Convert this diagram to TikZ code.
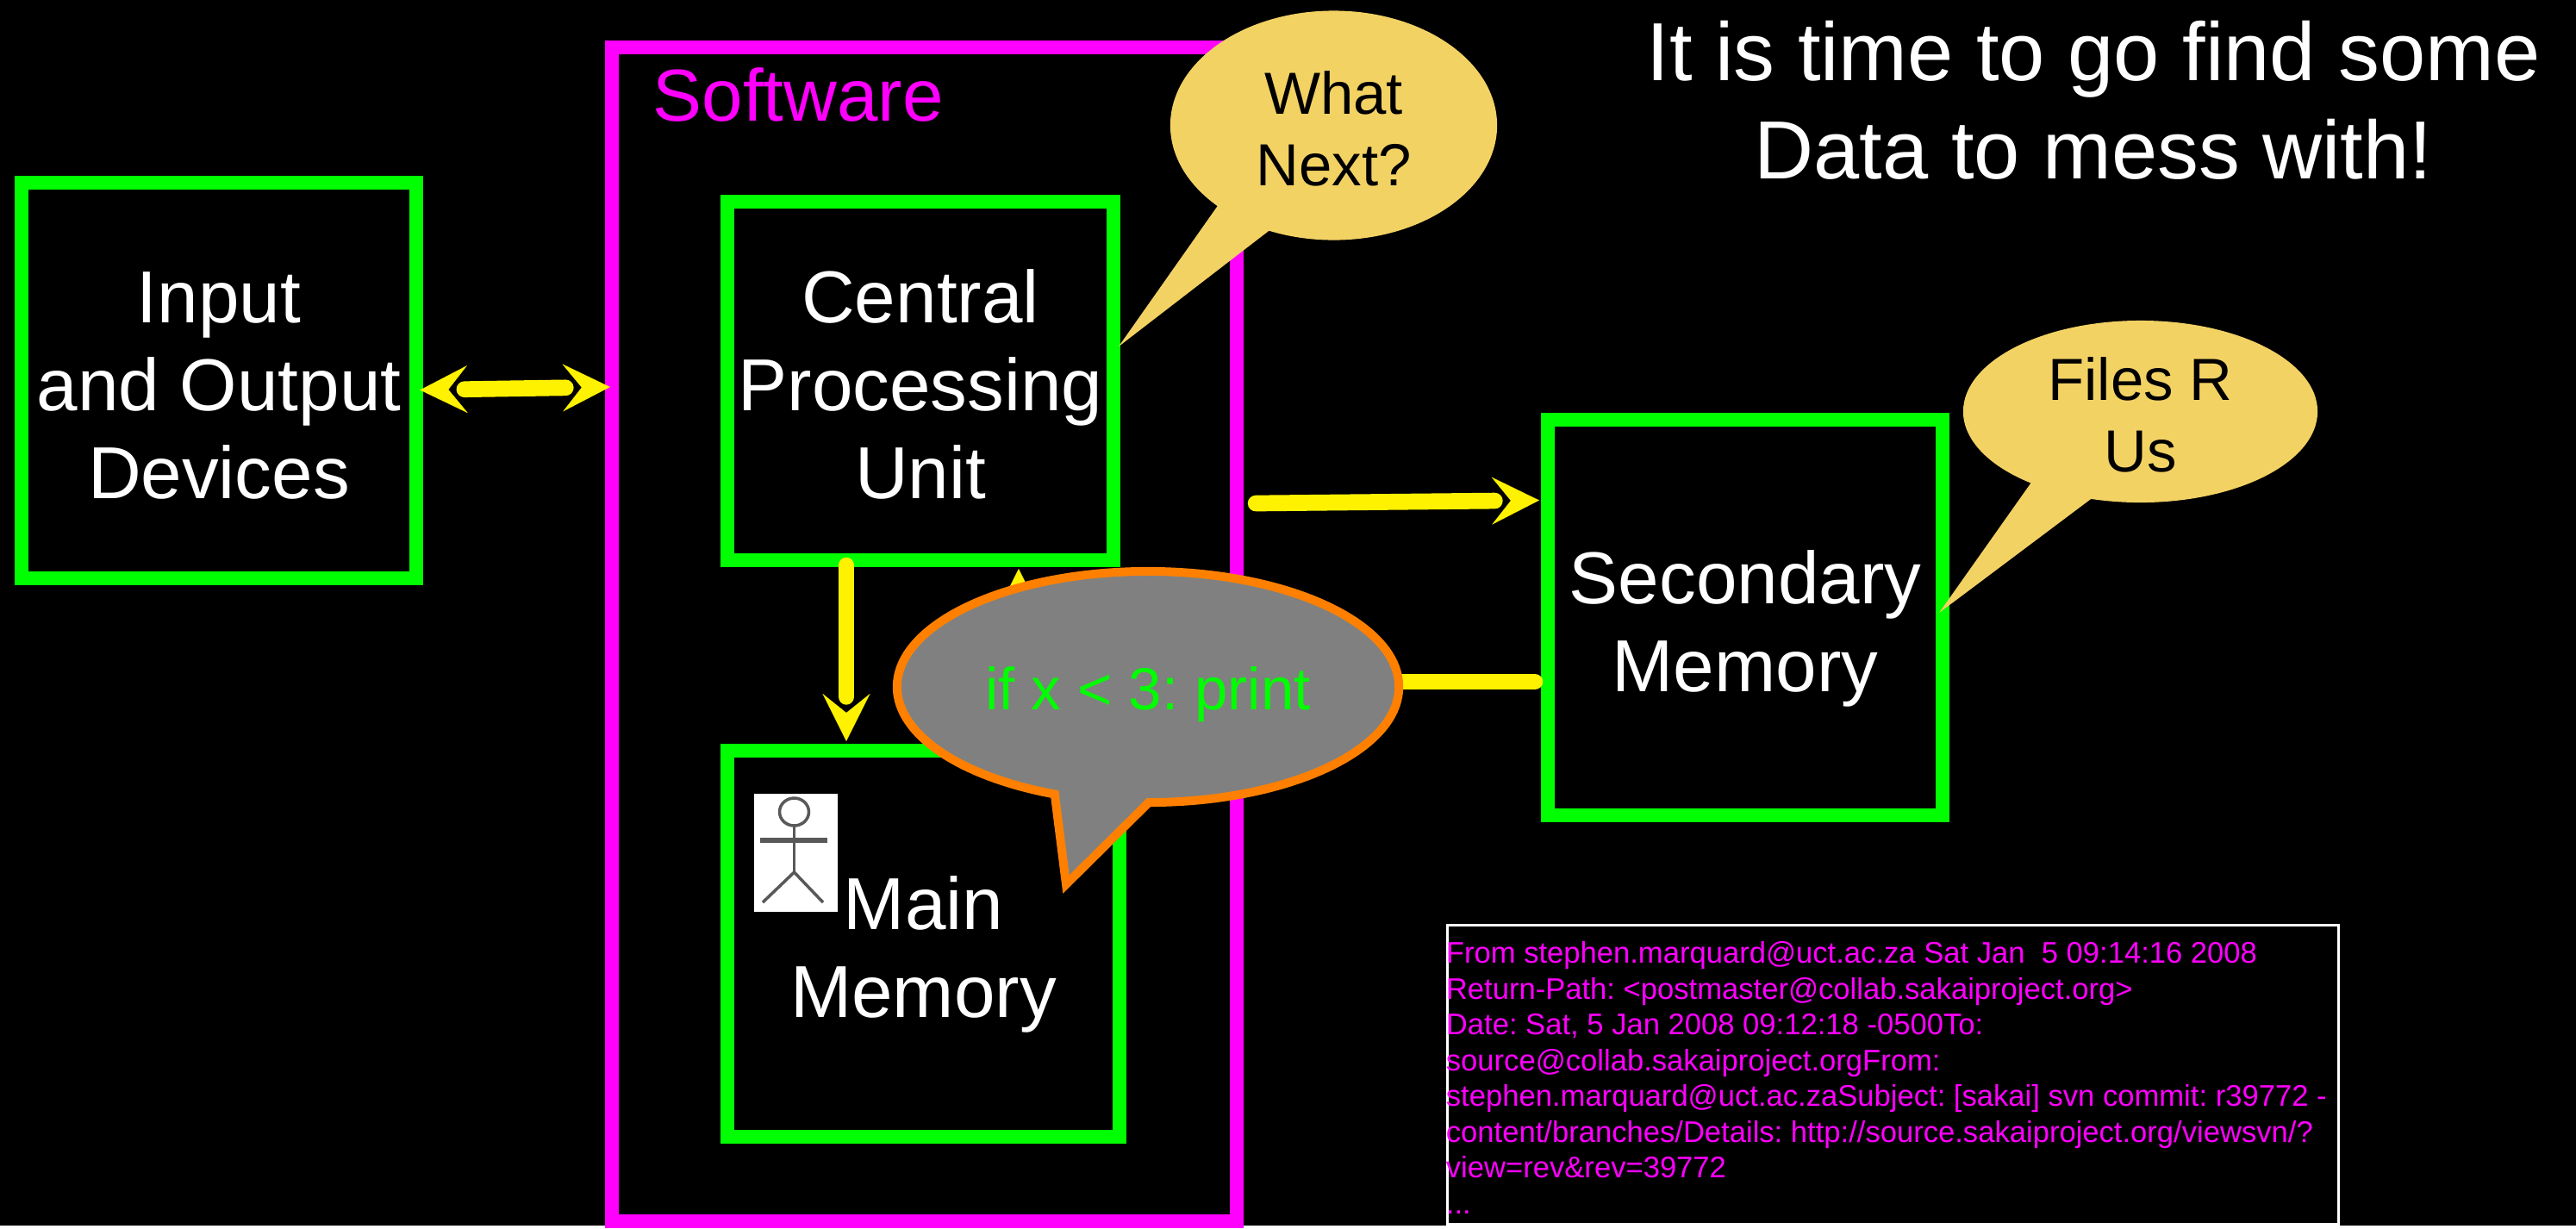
\documentclass[tikz,border=0pt]{standalone}
\usepackage{fontspec}
\setmainfont{Liberation Sans}
\usetikzlibrary{arrows.meta, calc, positioning, shapes.callouts}
\definecolor{purebright}{HTML}{00FF00}
\definecolor{softmag}{HTML}{FF00FF}
\definecolor{bubblegold}{HTML}{F3D264}
\definecolor{speechedge}{HTML}{FF8000}
\tikzset{
	hwbox/.style={draw=purebright, line width=0.16cm, rectangle, inner sep=0pt, outer sep=0pt},
	hwlabel/.style={align=center, text=white, inner sep=0pt, font=\fontsize{24.3}{29}\selectfont},
	softbox/.style={draw=softmag, line width=0.16cm, rectangle, inner sep=0pt, outer sep=0pt},
	flow/.style={draw=yellow, line width=0.187cm, line cap=round},
	flowhead/.style={draw=yellow, line width=0.01pt, -{Stealth[length=15.6pt,width=15.6pt,inset=6.26pt]}},
	goldbubble/.style={ellipse callout, fill=bubblegold, inner sep=0pt, outer sep=0pt, callout pointer arc=22},
	bubbletext/.style={align=center, text=black, inner sep=0pt, font=\fontsize{19.6}{23.5}\selectfont},
}
\begin{document}
\frenchspacing
\begin{tikzpicture}[x=0.01cm,y=-0.01cm]
	\fill[black] (0,0) rectangle (2989,1422);
	% boxes
	\node[softbox, minimum width=7.25cm, minimum height=13.62cm] (soft) at (1072.5,736) {};
	\node[hwbox, minimum width=4.585cm, minimum height=4.59cm] (io) at (254,441.5) {};
	\node[hwbox, minimum width=4.48cm, minimum height=4.16cm] (cpu) at (1068,442) {};
	\node[hwbox, minimum width=4.55cm, minimum height=4.48cm] (mainmem) at (1071.5,1095) {};
	\node[hwbox, minimum width=4.58cm, minimum height=4.59cm] (sec) at (2025,716.5) {};
	\node[hwlabel] (iolabel) at ($(io)+(0,6)$) {Input\\and Output\\Devices};
	\node[hwlabel] (cpulabel) at ($(cpu)+(0,4)$) {Central\\Processing\\Unit};
	\node[hwlabel] (seclabel) at ($(sec)+(0,13)$) {Secondary\\Memory};
	\node[hwlabel, anchor=base] (mainlabel) at (1071.5,1180) {Main\\Memory};
	\node[anchor=base west, text=softmag, inner sep=0pt, font=\fontsize{24.3}{29}\selectfont] (softlabel) at (757,140) {Software};
	% arrows
	\coordinate (ioout) at ($(io.east)+(4,11)$);
	\coordinate (softin) at ($(soft.west)+(-2,-287)$);
	\coordinate (cpuout) at ($(cpu.east)+(165,142)$);
	\coordinate (secin) at ($(sec.west)+(-10,-136)$);
	\coordinate (cpudown) at ($(cpu.south)+(-86,6)$);
	\coordinate (mainin) at ($(mainmem.north)+(-89.5,-11)$);
	\coordinate (mainup) at ($(mainmem.north)+(110.5,-20)$);
	\coordinate (cpuin) at ($(cpu.south)+(114,10)$);
	\coordinate (secout) at ($(sec.west)+(-15,74.5)$);
	\coordinate (softback) at ($(soft.east)+(15,55)$);
	\draw[flow, shorten <=0.515cm, shorten >=0.515cm] (ioout) -- (softin);
	\draw[flow, shorten >=0.515cm] (cpuout) -- (secin);
	\draw[flow, shorten >=0.515cm] (cpudown) -- (mainin);
	\draw[flow, shorten >=0.515cm] (mainup) -- (cpuin);
	\draw[flow, shorten >=0.515cm] (secout) -- (softback);
	\foreach \from/\to in {ioout/softin, softin/ioout, cpuout/secin, cpudown/mainin, mainup/cpuin, secout/softback}
		\draw[flowhead] ($(\to)!0.3cm!(\from)$) -- (\to);
	% little man
	\node[fill=white, inner sep=0pt, minimum width=0.97cm, minimum height=1.37cm] (actor) at (923.5,989.5) {};
	\draw[black!65, line width=0.035cm] (921.5,942) ellipse (17 and 16);
	\draw[black!65, line width=0.035cm] (921.5,958) -- (921.5,1012);
	\draw[black!65, line width=0.06cm] (882,975) -- (960,975);
	\draw[black!65, line width=0.035cm] (885,1047) -- (921.5,1012) -- (955,1047);
	% speech bubbles
	\coordinate (cputip) at (1298,402);
	\coordinate (sectip) at (2250,711);
	\coordinate (codetip) at (1237,1026);
	\node[goldbubble, minimum width=3.79cm, minimum height=2.66cm, callout absolute pointer={(cputip)}] (nextbubble) at (1547.5,145.5) {};
	\node[bubbletext] (nexttext) at ($(nextbubble)+(0,4)$) {What\\Next?};
	\node[goldbubble, minimum width=4.11cm, minimum height=2.11cm, callout absolute pointer={(sectip)}] (filebubble) at (2483.5,477.5) {};
	\node[bubbletext] (filetext) at ($(filebubble)+(0,4)$) {Files R\\Us};
	\node[ellipse callout, draw=speechedge, fill=black!50, line width=0.1cm, inner sep=0pt, outer sep=0pt, minimum width=5.82cm, minimum height=2.68cm, callout pointer arc=22, callout absolute pointer={(codetip)}] (codebubble) at (1332,797) {};
	\node[bubbletext, text=purebright] (codetext) at ($(codebubble)+(0,9)$) {if x < 3: print};
	% heading and mail text
	\node[align=center, text=white, inner sep=0pt, font=\fontsize{27.2}{32.4}\selectfont] (title) at (2429,116) {It is time to go find some\\Data to mess with!};
	\node[draw=white, line width=0.03cm, inner sep=0pt, outer sep=0pt, minimum width=10.34cm, minimum height=3.46cm] (mailbox) at (2196.5,1247) {};
	\node[anchor=north west, align=left, text=softmag, inner sep=0pt, font=\fontsize{9.84}{11.8}\selectfont] (mailtext) at ($(mailbox.north west)+(-2,18)$) {From stephen.marquard@uct.ac.za Sat Jan\ \ 5 09:14:16 2008\\
Return-Path: <postmaster@collab.sakaiproject.org>\\
Date: Sat, 5 Jan 2008 09:12:18 -0500To:\\
source@collab.sakaiproject.orgFrom:\\
stephen.marquard@uct.ac.zaSubject: [sakai] svn commit: r39772 -\\
content/branches/Details: http://source.sakaiproject.org/viewsvn/?\\
view=rev\&rev=39772\\
...};
\end{tikzpicture}
\end{document}
